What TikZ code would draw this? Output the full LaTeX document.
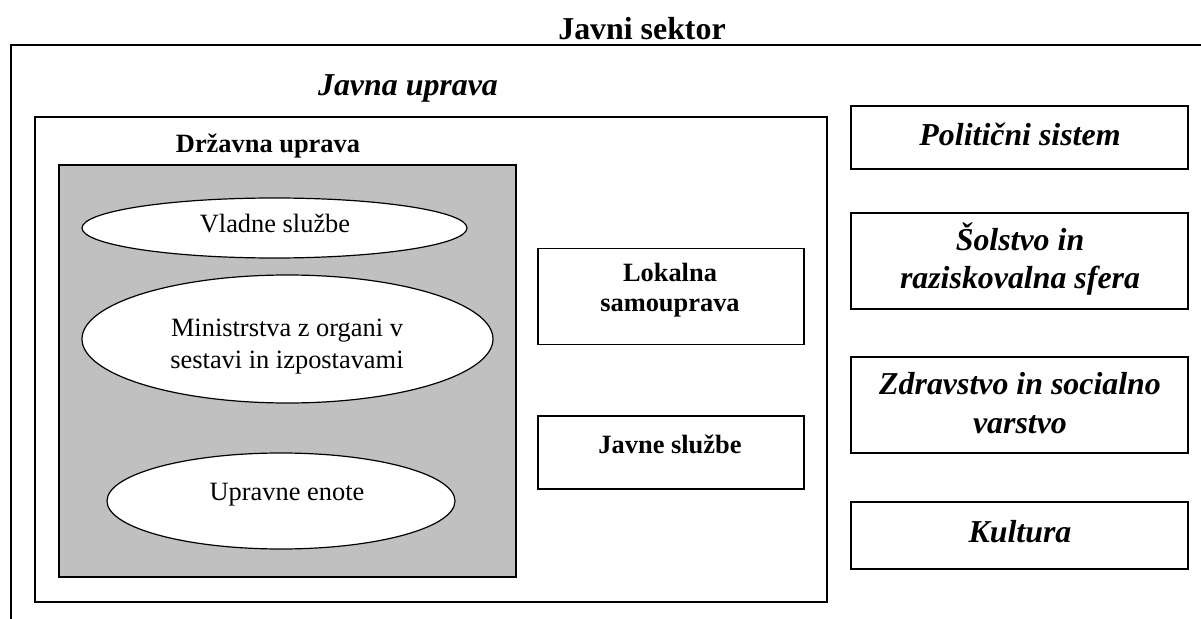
\documentclass[tikz,border=0pt]{standalone}
\usepackage{fontspec}
\setmainfont{Liberation Serif}
\usetikzlibrary{shapes.geometric}
\definecolor{panelgray}{RGB}{192,192,192}
\tikzset{
  frameline/.style={line width=1.6bp},
  box/.style={draw, line width=1.5bp, inner sep=0pt, fill=white},
  graybox/.style={draw, line width=1.5bp, inner sep=0pt, fill=panelgray},
  ell/.style={ellipse, draw, line width=1.2bp, inner sep=0pt, fill=white},
  lbl/.style={anchor=base, inner sep=0pt, align=center},
  big/.style={font=\fontsize{32}{36}\selectfont},
  small/.style={font=\fontsize{26.5}{30}\selectfont},
}
\begin{document}
\begin{tikzpicture}[x=1bp, y=-1bp]
\useasboundingbox (0,0) rectangle (1201,619);

% public sector frame: top and left edges only
\coordinate (frameBL) at (11,625);
\coordinate (frameTL) at (11,45);
\coordinate (frameTR) at (1205,45);
\draw[frameline] (frameBL) -- (frameTL) -- (frameTR);
\node[lbl, big] (sektor) at (642,40) {\bfseries Javni sektor};

% public administration
\node[lbl, big] (upravaTitle) at (408,96) {\bfseries\itshape Javna uprava};
\node[box, minimum width=792bp, minimum height=485bp] (uprava) at (431,359.5) {};

% state administration
\node[lbl, small] (drzavnaTitle) at (268,153) {\bfseries Državna uprava};
\node[graybox, minimum width=457bp, minimum height=412bp] (drzavna) at (287.5,371) {};

\node[ell, minimum width=385bp, minimum height=60bp] (vladne) at (274.5,228) {};
\node[lbl, small] (vladneText) at (275,233) {Vladne službe};

\node[ell, minimum width=411bp, minimum height=128bp] (ministrstva) at (287.5,339) {};
\node[lbl, small] (ministrstvaText) at (287,368) {Ministrstva z organi v\\[2bp]sestavi in izpostavami};

\node[ell, minimum width=348bp, minimum height=96bp] (enote) at (281,501) {};
\node[lbl, small] (enoteText) at (287,500) {Upravne enote};

% local self-government and public services
\node[box, minimum width=266bp, minimum height=96bp] (lokalna) at (671,296.5) {};
\node[lbl, small] (lokalnaText) at (670,312) {\bfseries Lokalna\\[1bp]\bfseries samouprava};

\node[box, minimum width=266bp, minimum height=73bp] (javne) at (671,452.5) {};
\node[lbl, small] (javneText) at (670,453) {\bfseries Javne službe};

% other parts of the public sector
\node[box, minimum width=337bp, minimum height=63bp] (politicni) at (1019.5,137.5) {};
\node[lbl, big] (politicniText) at (1020,146) {\bfseries\itshape Politični sistem};

\node[box, minimum width=337bp, minimum height=96bp] (solstvo) at (1019.5,261) {};
\node[lbl, big] (solstvoText) at (1020,289) {\bfseries\itshape Šolstvo in\\[3bp]\bfseries\itshape raziskovalna sfera};

\node[box, minimum width=337bp, minimum height=96bp] (zdravstvo) at (1019.5,405) {};
\node[lbl, big] (zdravstvoText) at (1020,433) {\bfseries\itshape Zdravstvo in socialno\\[3bp]\bfseries\itshape varstvo};

\node[box, minimum width=337bp, minimum height=67bp] (kultura) at (1019.5,535.5) {};
\node[lbl, big] (kulturaText) at (1020,542) {\bfseries\itshape Kultura};
\end{tikzpicture}
\end{document}
